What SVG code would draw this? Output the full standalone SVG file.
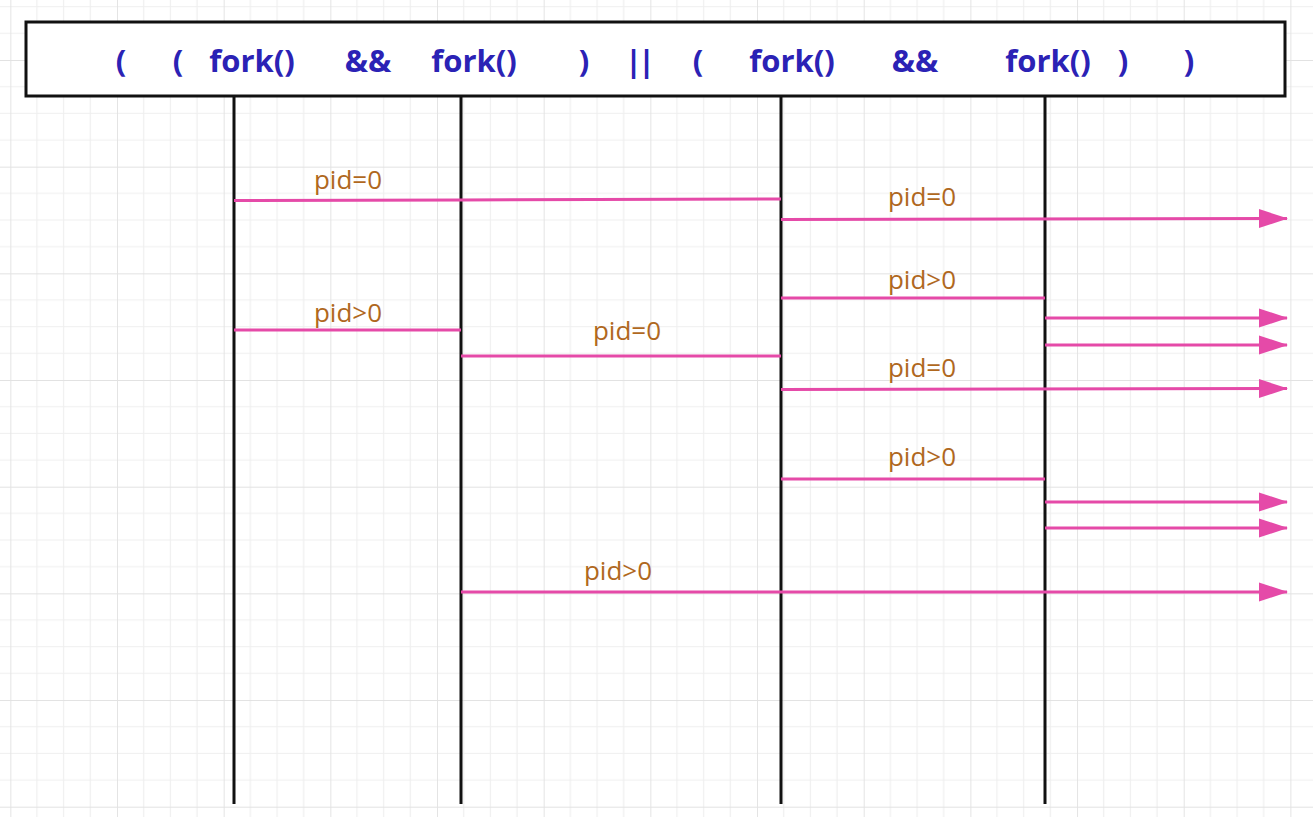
<svg xmlns="http://www.w3.org/2000/svg" width="1313" height="817" viewBox="0 0 1313 817">
<style>
.hdr{font-family:"Open Sans","Liberation Sans",sans-serif;font-weight:bold;font-size:31px;fill:#2b22b5;text-anchor:middle}
.lbl{font-family:"Open Sans","Liberation Sans",sans-serif;font-size:26px;fill:#b0681e;text-anchor:middle}
.life{stroke:#111;stroke-width:3;fill:none}
.msg{stroke:#e54aa8;stroke-width:3;fill:none}
.arr{marker-end:url(#ah)}
</style>
<defs>
<pattern id="grid" width="106.67" height="106.67" patternUnits="userSpaceOnUse" patternTransform="translate(10.33,-46.67)">
<path d="M26.67 0V106.67M53.33 0V106.67M80 0V106.67M0 26.67H106.67M0 53.33H106.67M0 80H106.67" stroke="#efefef" stroke-width="1.2" fill="none"/>
<path d="M0 0V106.67M0 0H106.67" stroke="#e2e2e2" stroke-width="1.8" fill="none"/>
</pattern>
<marker id="ah" markerWidth="30" markerHeight="22" refX="28" refY="11" markerUnits="userSpaceOnUse" orient="auto">
<path d="M0 1.5L29 11L0 20.5Z" fill="#e54aa8"/>
</marker>
</defs>
<rect x="0" y="0" width="1313" height="817" fill="#ffffff"/>
<rect x="0" y="0" width="1313" height="817" fill="url(#grid)"/>

<g id="lifelines">
<line class="life" x1="234" y1="96" x2="234" y2="804"/>
<line class="life" x1="461" y1="96" x2="461" y2="804"/>
<line class="life" x1="781" y1="96" x2="781" y2="804"/>
<line class="life" x1="1045" y1="96" x2="1045" y2="804"/>
</g>

<g id="header">
<rect x="26" y="22" width="1259" height="74" fill="#ffffff" stroke="#111" stroke-width="3"/>
<text class="hdr" x="121" y="72">(</text>
<text class="hdr" x="178" y="72">(</text>
<text class="hdr" x="252" y="72">fork()</text>
<text class="hdr" x="368" y="72">&amp;&amp;</text>
<text class="hdr" x="474" y="72">fork()</text>
<text class="hdr" x="584" y="72">)</text>
<text class="hdr" x="638" y="72" letter-spacing="-4">||</text>
<text class="hdr" x="698" y="72">(</text>
<text class="hdr" x="792" y="72">fork()</text>
<text class="hdr" x="915" y="72">&amp;&amp;</text>
<text class="hdr" x="1048" y="72">fork()</text>
<text class="hdr" x="1123" y="72">)</text>
<text class="hdr" x="1189" y="72">)</text>
</g>

<g id="connectors">
<path class="msg" d="M234 200.5L461 200L781 199"/>
<line class="msg arr" x1="781" y1="219.5" x2="1287" y2="218.5"/>
<line class="msg" x1="781" y1="298" x2="1045" y2="298"/>
<line class="msg arr" x1="1045" y1="318" x2="1287" y2="318"/>
<line class="msg arr" x1="1045" y1="345" x2="1287" y2="345"/>
<line class="msg" x1="234" y1="330" x2="461" y2="330"/>
<line class="msg" x1="461" y1="356" x2="781" y2="356"/>
<line class="msg arr" x1="781" y1="389.5" x2="1287" y2="388.5"/>
<line class="msg" x1="781" y1="479" x2="1045" y2="479"/>
<line class="msg arr" x1="1045" y1="502" x2="1287" y2="502"/>
<line class="msg arr" x1="1045" y1="528" x2="1287" y2="528"/>
<line class="msg arr" x1="461" y1="592" x2="1287" y2="592"/>
</g>

<g id="labels">
<text class="lbl" x="348" y="189">pid=0</text>
<text class="lbl" x="922" y="206">pid=0</text>
<text class="lbl" x="922" y="289">pid&gt;0</text>
<text class="lbl" x="348" y="322">pid&gt;0</text>
<text class="lbl" x="627" y="340">pid=0</text>
<text class="lbl" x="922" y="377">pid=0</text>
<text class="lbl" x="922" y="466">pid&gt;0</text>
<text class="lbl" x="618" y="580">pid&gt;0</text>
</g>
</svg>
